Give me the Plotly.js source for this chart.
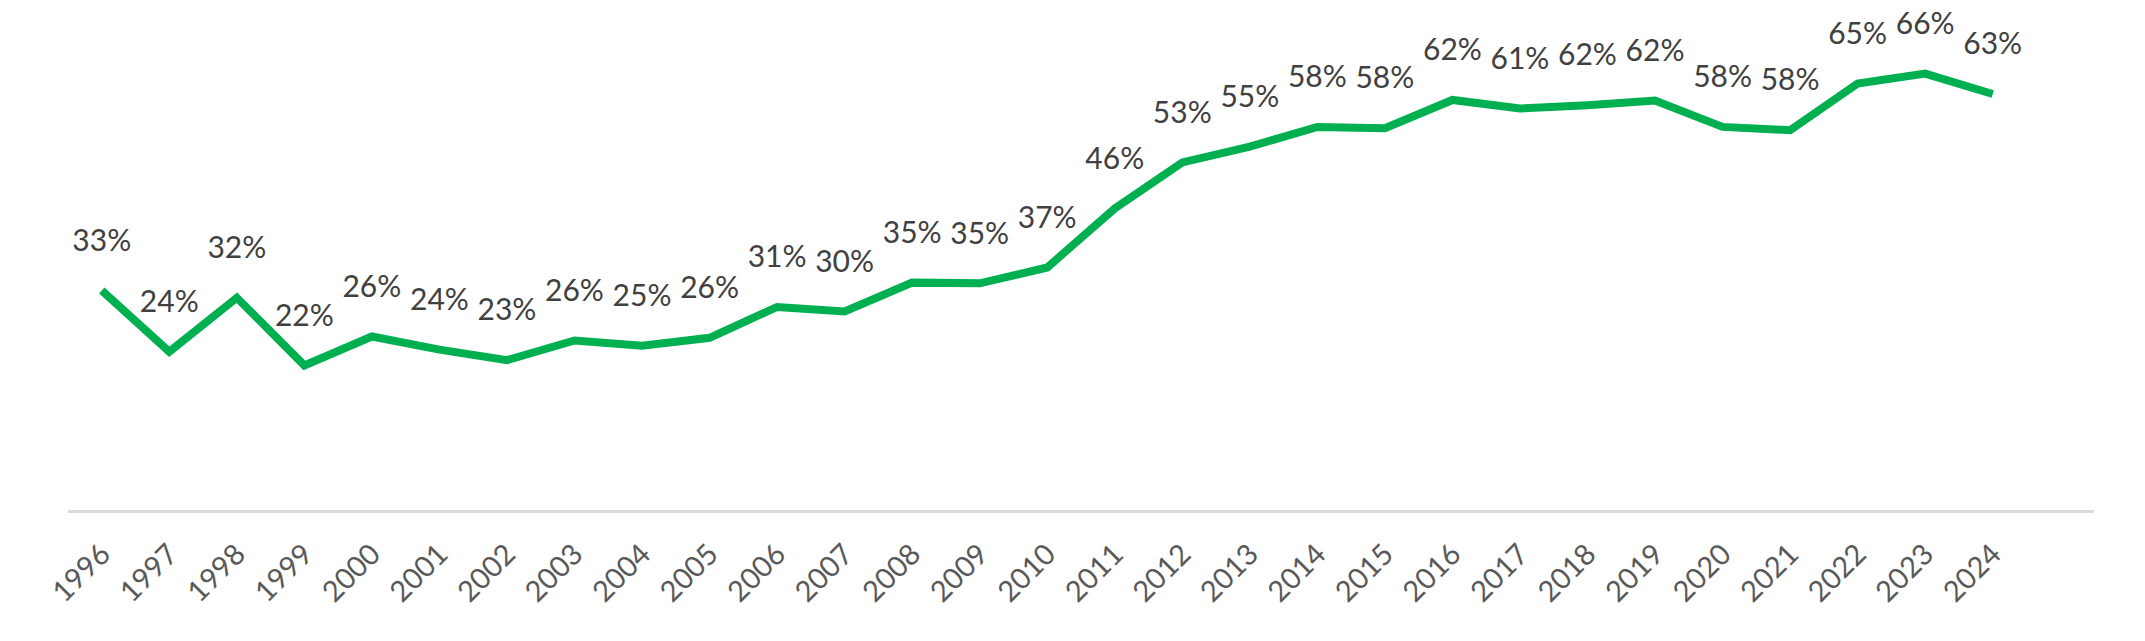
<!DOCTYPE html>
<html>
<head>
<meta charset="utf-8">
<script src="https://cdn.plot.ly/plotly-3.0.1.min.js"></script>
<style>
html,body{margin:0;padding:0;background:#fff;}
#chart{width:2145px;height:641px;}
</style>
</head>
<body>
<div id="chart"></div>
<script>
const years = ["1996","1997","1998","1999","2000","2001","2002","2003","2004","2005",
  "2006","2007","2008","2009","2010","2011","2012","2013","2014","2015",
  "2016","2017","2018","2019","2020","2021","2022","2023","2024"];
const shares = [33.4,24.1,32.3,22.0,26.4,24.4,22.8,25.8,25.0,26.2,
  30.9,30.2,34.6,34.5,36.9,45.9,52.9,55.3,58.3,58.1,
  62.4,61.1,61.6,62.3,58.3,57.8,64.9,66.4,63.3];

const trace = {
  x: years,
  y: shares,
  type: 'scatter',
  mode: 'lines+markers+text',
  line: {color: '#00B050', width: 8},
  marker: {size: 50, color: 'rgba(0,0,0,0)'},
  texttemplate: '%{y:.0f}%',
  textposition: 'top center',
  textfont: {family: 'Lato, sans-serif', size: 30, color: '#404040'},
  hoverinfo: 'skip',
  cliponaxis: false
};

const layout = {
  width: 2145,
  height: 641,
  margin: {l: 68, r: 51, t: 50, b: 131},
  paper_bgcolor: '#ffffff',
  plot_bgcolor: '#ffffff',
  showlegend: false,
  xaxis: {
    type: 'category',
    range: [-0.5, 29.5],
    showgrid: false,
    zeroline: false,
    showline: true,
    linecolor: '#d9d9d9',
    linewidth: 2.5,
    ticks: '',
    tickangle: -45,
    tickfont: {family: 'Lato, sans-serif', size: 29, color: '#595959'},
    ticklabelstandoff: 13
  },
  yaxis: {
    range: [0, 70],
    showgrid: false,
    zeroline: false,
    showline: false,
    showticklabels: false,
    ticks: ''
  }
};

Plotly.newPlot('chart', [trace], layout, {displayModeBar: false, staticPlot: true});
</script>
</body>
</html>
